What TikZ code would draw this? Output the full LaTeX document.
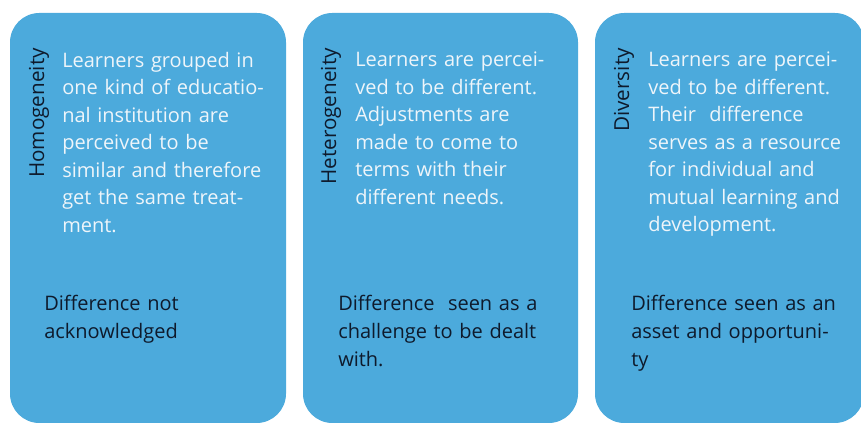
\documentclass[tikz,border=0pt]{standalone}
\usepackage{fontspec}
\setmainfont{Open Sans}
\usepackage{tikz}
\usetikzlibrary{positioning,fit}
\definecolor{cardblue}{RGB}{76,170,220}
\definecolor{cardtext}{RGB}{238,245,250}
\definecolor{notetext}{RGB}{14,26,44}

\begin{document}
\begin{tikzpicture}[x=0.75pt, y=-0.75pt,
        card/.style={draw=none, fill=cardblue, rounded corners=22pt, inner sep=0pt},
        tag/.style={rotate=90, inner sep=0pt, text=notetext, font=\fontsize{15.5pt}{20.5pt}\selectfont},
        body/.style={inner sep=0pt, text=cardtext, align=left, text width=200pt,
          font=\fontsize{15pt}{20.6pt}\selectfont},
        note/.style={inner sep=0pt, text=notetext, align=left, text width=200pt,
          font=\fontsize{15pt}{20.8pt}\selectfont}]
    \useasboundingbox (0,0) rectangle (861,423);
    % the three cards
    \node[card, fit={(10,13) (286,423)}] (homog) {};
    \node[card, fit={(303,13) (578,423)}] (hetero) {};
    \node[card, fit={(595,13) (864,423)}] (divers) {};
    % card 1
    \node[tag, anchor=base east] (homogtag) at (44,48) {Homogeneity};
    \node[body, anchor=north west] (homogtext) at (62,52)
      {Learners grouped in\\ one kind of educatio-\\ nal institution are\\ perceived to be\\
       similar and therefore\\ get the same treat-\\ ment.};
    \node[note, anchor=north west] (homognote) at (44,295)
      {Difference not\\ acknowledged};
    % card 2
    \node[tag, anchor=base east] (heterotag) at (336,48) {Heterogeneity};
    \node[body, anchor=north west] (heterotext) at (355,52)
      {Learners are percei-\\ ved to be different.\\ Adjustments are\\ made to come to\\
       terms with their\\ different needs.};
    \node[note, anchor=north west] (heteronote) at (338,295)
      {Difference\ \ seen as a\\ challenge to be dealt\\ with.};
    % card 3
    \node[tag, anchor=base east] (diverstag) at (629,48) {Diversity};
    \node[body, anchor=north west] (diverstext) at (648,52)
      {Learners are percei-\\ ved to be different.\\ Their\ \ difference\\ serves as a resource\\
       for individual and\\ mutual learning and\\ development.};
    \node[note, anchor=north west] (diversnote) at (631,295)
      {Difference seen as an\\ asset and opportuni-\\ ty};
\end{tikzpicture}
\end{document}
